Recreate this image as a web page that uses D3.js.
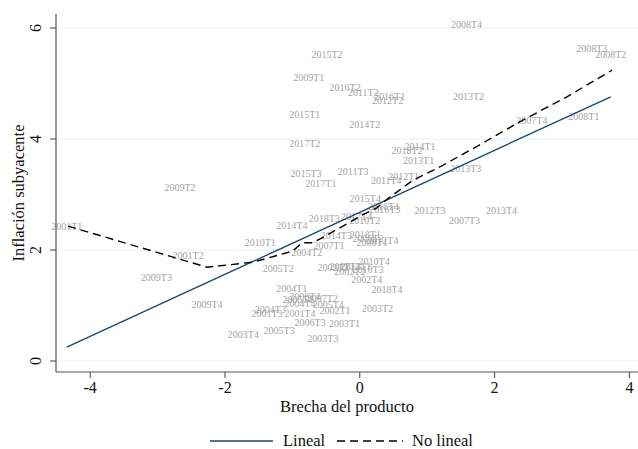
<!DOCTYPE html>
<html>
<head>
<meta charset="utf-8">
<script src="https://cdn.jsdelivr.net/npm/d3@7"></script>
<style>
  body { margin: 0; background: #fff; }
  svg text { font-family: "Liberation Serif", "Times New Roman", serif; }
</style>
</head>
<body>
<div id="main"></div>
<script>
// quarter labels, output gap (x) and core inflation (y)
let quarters = [
  "2001T1","2001T2","2001T3","2001T4","2002T1","2002T2","2002T3","2002T4",
  "2003T1","2003T2","2003T3","2003T4","2004T1","2004T2","2004T3","2004T4",
  "2005T1","2005T2","2005T3","2005T4","2006T1","2006T2","2006T3","2006T4",
  "2007T1","2007T2","2007T3","2007T4","2008T1","2008T2","2008T3","2008T4",
  "2009T1","2009T2","2009T3","2009T4","2010T1","2010T2","2010T3","2010T4",
  "2011T1","2011T2","2011T3","2011T4","2012T1","2012T2","2012T3","2012T4",
  "2013T1","2013T2","2013T3","2013T4","2014T1","2014T2","2014T3","2014T4",
  "2015T1","2015T2","2015T3","2015T4","2016T1","2016T2","2016T3","2016T4",
  "2017T1","2017T2","2017T3","2017T4","2018T1","2018T2","2018T3","2018T4"
];
let brecha = [
  -4.34,-2.54,-1.37,-0.88,-0.36,-0.14,-0.39,0.11,
  -0.22,0.27,-0.54,-1.72,-1.00,-0.78,-1.32,-0.88,
  -0.91,-1.20,-1.19,-0.46,0.19,0.13,-0.73,-0.81,
  -0.45,-0.55,1.56,2.56,3.33,3.73,3.45,1.59,
  -0.75,-2.66,-3.01,-2.26,-1.47,0.08,0.13,0.22,
  -0.05,0.06,-0.09,0.40,0.66,0.42,1.05,0.35,
  0.88,1.62,1.58,2.11,0.90,0.08,-0.34,-1.00,
  -0.81,-0.48,-0.79,0.09,0.45,-0.21,0.38,0.36,
  -0.57,-0.81,-0.21,-0.04,0.09,0.71,-0.52,0.41
];
let inflacion = [
  2.42,1.90,0.86,0.86,0.91,1.62,1.68,1.46,
  0.68,0.95,0.41,0.48,1.30,1.96,0.93,1.03,
  1.10,1.66,0.55,1.01,2.13,2.20,0.70,1.16,
  2.08,1.12,2.53,4.34,4.40,5.53,5.63,6.06,
  5.10,3.12,1.50,1.01,2.13,2.54,1.64,1.80,
  1.71,4.83,3.41,3.26,3.33,4.69,2.72,2.18,
  3.61,4.77,3.46,2.72,3.87,4.26,2.26,2.44,
  4.44,5.53,3.37,2.92,4.77,4.92,2.73,2.79,
  3.19,3.92,1.71,2.60,2.28,3.80,2.56,1.28
];

// linear fit endpoints
let linealX = [-4.34, 3.73];
let linealY = [0.25, 4.76];

// non-linear fit
let noLinealX = [-4.32,-2.26,-1.58,-0.99,-0.85,-0.69,-0.48,-0.14,0.04,0.26,0.45,0.80,1.20,1.84,2.38,3.08,3.75];
let noLinealY = [2.43,1.69,1.78,1.98,2.13,2.13,2.27,2.50,2.63,2.76,2.95,3.26,3.50,3.93,4.31,4.76,5.24];

let xTicks = [-4, -2, 0, 2, 4];
let yTicks = [0, 2, 4, 6];

let width = 638, height = 449;
let plotLeft = 56, plotRight = 638, plotTop = 14, plotBottom = 372;

let svg = d3.select('#main')
  .append('svg')
  .attr('width', width)
  .attr('height', height);

let x = d3.scaleLinear().domain([-4, 4]).range([89.7, 628.9]);
let y = d3.scaleLinear().domain([0, 6]).range([361, 28]);

// gridlines
svg.append('g')
  .selectAll('line')
  .data(yTicks)
  .enter().append('line')
  .attr('x1', plotLeft).attr('x2', plotRight)
  .attr('y1', d => y(d)).attr('y2', d => y(d))
  .attr('stroke', '#e8f0f2')
  .attr('stroke-width', 1);

// point labels
svg.append('g')
  .selectAll('text')
  .data(quarters)
  .enter().append('text')
  .attr('x', (d, i) => x(brecha[i]))
  .attr('y', (d, i) => y(inflacion[i]) + 3.5)
  .attr('text-anchor', 'middle')
  .attr('font-size', '10px')
  .attr('fill', '#a3a3a3')
  .text(d => d);

let line = d3.line()
  .x(d => x(d[0]))
  .y(d => y(d[1]));

svg.append('path')
  .datum(linealX.map((v, i) => [v, linealY[i]]))
  .attr('d', line)
  .attr('fill', 'none')
  .attr('stroke', '#1a476f')
  .attr('stroke-width', 1.4);

svg.append('path')
  .datum(noLinealX.map((v, i) => [v, noLinealY[i]]))
  .attr('d', line)
  .attr('fill', 'none')
  .attr('stroke', '#000')
  .attr('stroke-width', 1.4)
  .attr('stroke-dasharray', '8,5');

// axes
let xAxis = svg.append('g')
  .attr('transform', 'translate(0,' + plotBottom + ')')
  .call(d3.axisBottom(x).tickValues(xTicks).tickSize(6).tickPadding(4)
    .tickFormat(d => d < 0 ? '-' + Math.abs(d) : d));
xAxis.select('.domain').remove();
xAxis.selectAll('.tick line').attr('stroke', '#444');
xAxis.selectAll('text')
  .attr('font-size', '16px')
  .attr('fill', '#111')
  .attr('font-family', '"Liberation Serif", serif');

svg.append('line')
  .attr('x1', plotLeft).attr('x2', plotRight)
  .attr('y1', plotBottom).attr('y2', plotBottom)
  .attr('stroke', '#555').attr('stroke-width', 1.2);

svg.append('line')
  .attr('x1', plotLeft).attr('x2', plotLeft)
  .attr('y1', plotTop).attr('y2', plotBottom)
  .attr('stroke', '#555').attr('stroke-width', 1.2);

let yAxis = svg.append('g');
yAxis.selectAll('line')
  .data(yTicks)
  .enter().append('line')
  .attr('x1', plotLeft - 6).attr('x2', plotLeft)
  .attr('y1', d => y(d)).attr('y2', d => y(d))
  .attr('stroke', '#444');
yAxis.selectAll('text')
  .data(yTicks)
  .enter().append('text')
  .attr('transform', d => 'translate(41,' + y(d) + ') rotate(-90)')
  .attr('text-anchor', 'middle')
  .attr('font-size', '16px')
  .attr('fill', '#111')
  .text(d => d);

// axis titles
svg.append('text')
  .attr('x', (plotLeft + plotRight) / 2)
  .attr('y', 412)
  .attr('text-anchor', 'middle')
  .attr('font-size', '16.5px')
  .attr('fill', '#111')
  .text('Brecha del producto');

svg.append('text')
  .attr('transform', 'translate(24,' + (plotTop + plotBottom) / 2 + ') rotate(-90)')
  .attr('text-anchor', 'middle')
  .attr('font-size', '16.5px')
  .attr('fill', '#111')
  .text('Inflación subyacente');

// legend
let legend = svg.append('g');
legend.append('line')
  .attr('x1', 210).attr('x2', 273).attr('y1', 441).attr('y2', 441)
  .attr('stroke', '#1a476f').attr('stroke-width', 1.4);
legend.append('text')
  .attr('x', 283).attr('y', 446)
  .attr('font-size', '16.5px').attr('fill', '#111')
  .text('Lineal');
legend.append('line')
  .attr('x1', 337).attr('x2', 403).attr('y1', 441).attr('y2', 441)
  .attr('stroke', '#000').attr('stroke-width', 1.4)
  .attr('stroke-dasharray', '8,5');
legend.append('text')
  .attr('x', 412).attr('y', 446)
  .attr('font-size', '16.5px').attr('fill', '#111')
  .text('No lineal');
</script>
</body>
</html>
